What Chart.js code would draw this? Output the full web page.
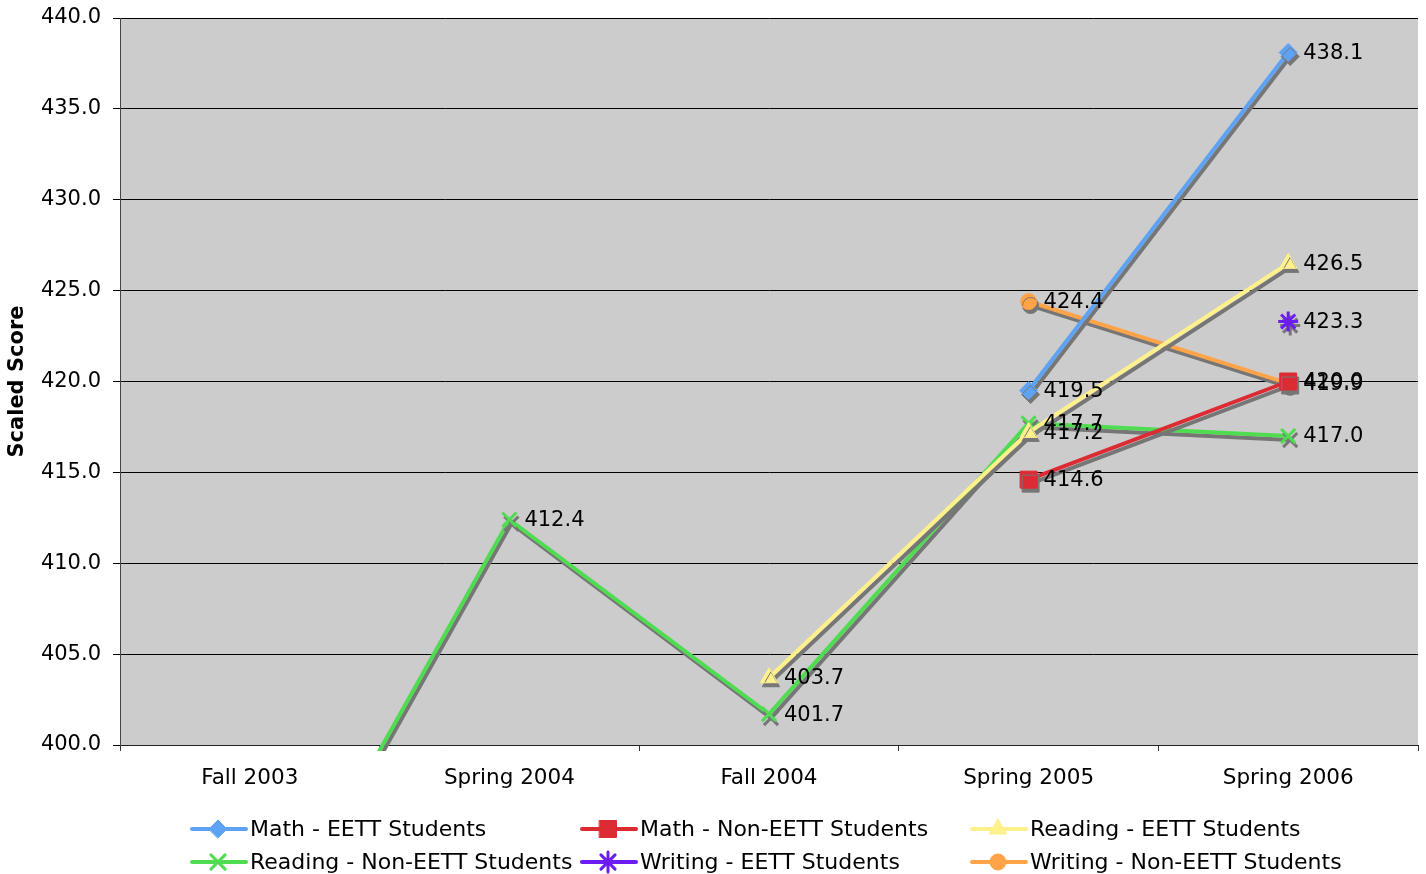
<!DOCTYPE html>
<html>
<head>
<meta charset="utf-8">
<script src="https://cdn.jsdelivr.net/npm/chart.js@4/dist/chart.umd.min.js"></script>
<style>
html,body{margin:0;padding:0;background:#fff;overflow:hidden;}
#wrap{width:1426px;height:874px;position:relative;}
#c{display:block;}
</style>
</head>
<body>
<div id="wrap"><canvas id="c"></canvas></div>
<script>
const categories = ['Fall 2003', 'Spring 2004', 'Fall 2004', 'Spring 2005', 'Spring 2006'];
const mathEETT = [null, null, null, 419.5, 438.1];
const mathNonEETT = [null, null, null, 414.6, 420.0];
const readingEETT = [null, null, 403.7, 417.2, 426.5];
const readingNonEETT = [387.0, 412.4, 401.7, 417.7, 417.0];
const writingEETT = [null, null, null, null, 423.3];
const writingNonEETT = [null, null, null, 424.4, 419.9];
const yTicks = [400, 405, 410, 415, 420, 425, 430, 435, 440];

const FONT = 'DejaVu Sans, Verdana, sans-serif';

const seriesDefs = [
  {label: 'Math - EETT Students', data: mathEETT, color: '#5ea2f4', style: 'rectRot', r: 9, bw: 1},
  {label: 'Math - Non-EETT Students', data: mathNonEETT, color: '#dc2b33', style: 'rect', r: 12, bw: 1},
  {label: 'Reading - EETT Students', data: readingEETT, color: '#fff08c', style: 'triangle', r: 10, bw: 1},
  {label: 'Reading - Non-EETT Students', data: readingNonEETT, color: '#50dc50', style: 'crossRot', r: 10, bw: 3},
  {label: 'Writing - EETT Students', data: writingEETT, color: '#6b1cf2', style: 'star', r: 10, bw: 3},
  {label: 'Writing - Non-EETT Students', data: writingNonEETT, color: '#ffa348', style: 'circle', r: 8, bw: 1}
];

const datasets = seriesDefs.map(s => ({
  label: s.label,
  data: s.data,
  borderColor: s.color,
  backgroundColor: s.color,
  pointBackgroundColor: s.color,
  pointBorderColor: s.color,
  pointBorderWidth: s.bw,
  pointStyle: s.style,
  pointRadius: s.r,
  pointHoverRadius: s.r,
  borderWidth: 4,
  tension: 0,
  spanGaps: false,
  clip: {left: 0, top: 0, right: 0, bottom: 6}
}));

const bgPlugin = {
  id: 'bg',
  beforeDraw(chart) {
    const a = chart.chartArea, ctx = chart.ctx;
    ctx.save();
    ctx.fillStyle = '#cccccc';
    ctx.fillRect(a.left, a.top, a.right - a.left, a.bottom - a.top);
    ctx.restore();
  }
};

const shadowPlugin = {
  id: 'shadow',
  beforeDatasetDraw(chart) {
    const ctx = chart.ctx;
    ctx.save();
    ctx.shadowColor = 'rgba(118,118,118,1)';
    ctx.shadowOffsetX = 2;
    ctx.shadowOffsetY = 4;
    ctx.shadowBlur = 0;
  },
  afterDatasetDraw(chart) {
    chart.ctx.restore();
  }
};

const labelPlugin = {
  id: 'vlabels',
  afterDatasetsDraw(chart) {
    const ctx = chart.ctx, a = chart.chartArea;
    ctx.save();
    ctx.font = '21px ' + FONT;
    ctx.fillStyle = '#000';
    ctx.textAlign = 'left';
    ctx.textBaseline = 'middle';
    chart.data.datasets.forEach((ds, di) => {
      const meta = chart.getDatasetMeta(di);
      meta.data.forEach((pt, i) => {
        const v = ds.data[i];
        if (v === null || v === undefined) return;
        if (pt.y < a.top - 1 || pt.y > a.bottom + 1) return;
        ctx.fillText(v.toFixed(1), pt.x + 15, pt.y + 1);
      });
    });
    ctx.restore();
  }
};

function drawMarker(ctx, style, r, x, y, color, bw) {
  if (Chart.helpers && Chart.helpers.drawPoint) {
    ctx.fillStyle = color; ctx.strokeStyle = color;
    Chart.helpers.drawPoint(ctx, {pointStyle: style, radius: r, borderWidth: bw, rotation: 0}, x, y);
  }
}

const legendPlugin = {
  id: 'customLegend',
  afterDraw(chart) {
    const ctx = chart.ctx;
    const cols = [190, 580, 970];
    const rows = [829, 862];
    ctx.save();
    seriesDefs.forEach((s, i) => {
      const x = cols[i % 3], y = rows[Math.floor(i / 3)];
      ctx.strokeStyle = s.color;
      ctx.lineWidth = 4;
      ctx.lineCap = 'round';
      ctx.beginPath();
      ctx.moveTo(x + 2, y);
      ctx.lineTo(x + 56, y);
      ctx.stroke();
      ctx.lineWidth = s.bw;
      drawMarker(ctx, s.style, s.r, x + 28, y, s.color, s.bw);
      ctx.fillStyle = '#000';
      ctx.font = '22px ' + FONT;
      ctx.textAlign = 'left';
      ctx.textBaseline = 'middle';
      ctx.fillText(s.label, x + 60, y + 1);
    });
    ctx.restore();
  }
};

new Chart(document.getElementById('c'), {
  type: 'line',
  data: {labels: categories, datasets: datasets},
  plugins: [bgPlugin, shadowPlugin, labelPlugin, legendPlugin],
  options: {
    responsive: true,
    maintainAspectRatio: false,
    animation: false,
    events: [],
    layout: {autoPadding: false, padding: {left: 0, right: 8, top: 18, bottom: 0}},
    plugins: {
      legend: {display: false},
      tooltip: {enabled: false},
      title: {display: false}
    },
    scales: {
      x: {
        type: 'category',
        offset: true,
        grid: {display: true, drawOnChartArea: false, drawTicks: true, tickLength: 6, color: '#333', offset: true},
        border: {display: true, color: '#222', width: 1},
        ticks: {font: {family: FONT, size: 21.5}, color: '#000', padding: 15, maxRotation: 0, autoSkip: false},
        afterFit(scale) { scale.height = 129; scale.paddingLeft = 0; scale.paddingRight = 0; }
      },
      y: {
        min: 400,
        max: 440,
        afterBuildTicks(scale) { scale.ticks = yTicks.map(v => ({value: v})); },
        grid: {color: '#000', lineWidth: 1, tickLength: 7, drawTicks: true},
        border: {display: true, color: '#444', width: 1},
        ticks: {font: {family: FONT, size: 21}, color: '#000', padding: 12, callback: v => Number(v).toFixed(1)},
        title: {display: true, text: 'Scaled Score', font: {family: FONT, size: 21, weight: 'bold'}, color: '#000', padding: {top: 5, bottom: 0}},
        afterFit(scale) { scale.width = 120; scale.paddingTop = 0; scale.paddingBottom = 0; }
      }
    }
  }
});
</script>
</body>
</html>
